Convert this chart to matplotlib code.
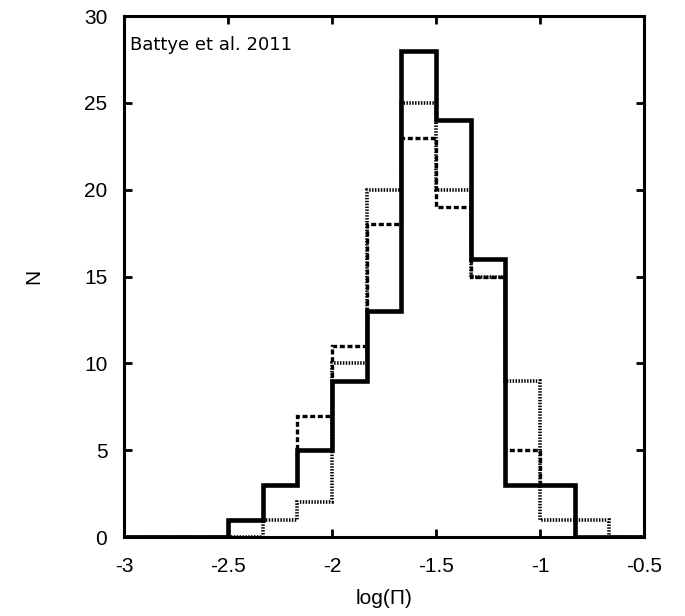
import numpy as np
import matplotlib
matplotlib.use('Agg')
import matplotlib.pyplot as plt

plt.rcParams['font.family'] = ['Liberation Sans', 'DejaVu Sans']

# bin edges: -3 .. -0.5 in steps of 1/6
edges = np.linspace(-3.0, -0.5, 16)
n_solid = [0, 0, 0, 1, 3, 5, 9, 13, 28, 24, 16, 3, 3, 0, 0]
n_dashed = [0, 0, 0, 1, 3, 7, 11, 18, 23, 19, 15, 5, 3, 0, 0]
n_dotted = [0, 0, 0, 0, 1, 2, 10, 20, 25, 20, 15, 9, 1, 1, 0]

xticks = [-3, -2.5, -2, -1.5, -1, -0.5]
xticklabels = ['-3', '-2.5', '-2', '-1.5', '-1', '-0.5']
yticks = [0, 5, 10, 15, 20, 25, 30]

fig = plt.figure(figsize=(6.85, 6.16), dpi=100)
ax = fig.add_axes([0.181, 0.128, 0.759, 0.846])

ax.stairs(n_dotted, edges, color='black', linewidth=2.6,
          linestyle=(0, (0.4, 0.4)), baseline=None)
ax.stairs(n_dashed, edges, color='black', linewidth=2.4,
          linestyle=(0, (1.5, 0.8)), baseline=None)
ax.stairs(n_solid, edges, color='black', linewidth=3.3, baseline=None)

ax.set_xlim(-3, -0.5)
ax.set_ylim(0, 30)
ax.set_xticks(xticks)
ax.set_xticklabels(xticklabels)
ax.set_yticks(yticks)
ax.tick_params(direction='in', top=True, right=True, length=6, width=2,
               labelsize=15)
ax.tick_params(axis='x', pad=14)
ax.tick_params(axis='y', pad=12)
for s in ax.spines.values():
    s.set_linewidth(2.2)

ax.set_xlabel('log(Π)', fontsize=15, labelpad=10)
ax.set_ylabel('N', fontsize=15, labelpad=29)
ax.text(0.012, 0.944, 'Battye et al. 2011', transform=ax.transAxes,
        fontsize=13, family='DejaVu Sans', ha='left', va='center')

fig.savefig('out.png', dpi=100)
